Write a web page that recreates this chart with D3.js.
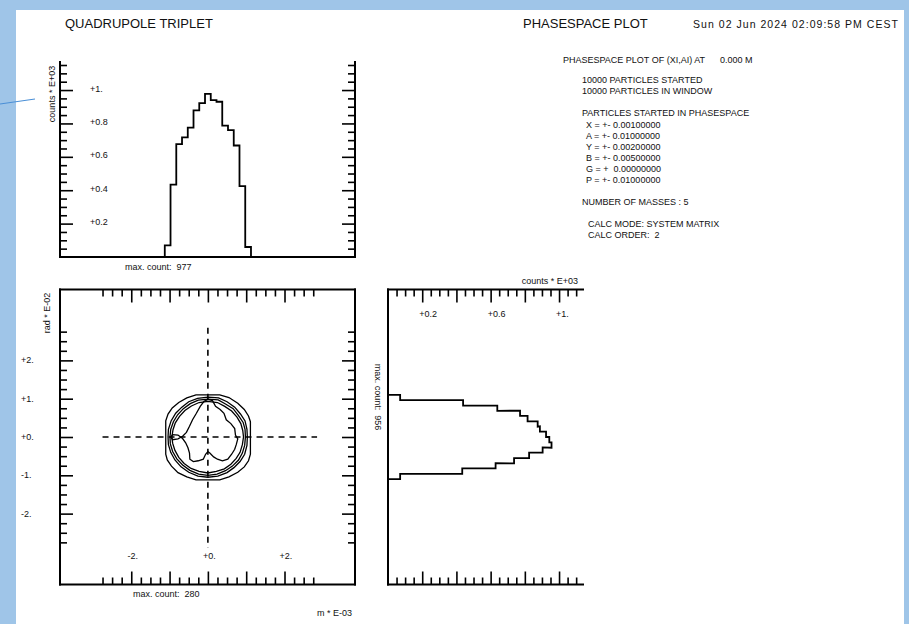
<!DOCTYPE html>
<html>
<head>
<meta charset="utf-8">
<script src="https://cdnjs.cloudflare.com/ajax/libs/d3/7.8.5/d3.min.js"></script>
<style>
html, body { margin: 0; padding: 0; background: #9fc5e8; }
svg { display: block; }
text { font-family: "Liberation Sans", Arial, Helvetica, sans-serif; fill: #111; white-space: pre; }
</style>
</head>
<body>
<div id="chart-area"></div>
<script>
// projection of X (m * E-03), 15 bins
var xBinCenters = [-1.05, -0.9, -0.75, -0.6, -0.45, -0.3, -0.15, 0, 0.15, 0.3, 0.45, 0.6, 0.75, 0.9, 1.05];
var xCounts = [70, 434, 676, 716, 775, 878, 922, 977, 940, 930, 787, 760, 668, 425, 60];
var xHistRange = [-3, 3];

// projection of A (rad * E-02), 16 bins, top to bottom
var aBinCenters = [1.03, 0.89, 0.75, 0.62, 0.48, 0.34, 0.21, 0.07, -0.07, -0.21, -0.34, -0.48, -0.62, -0.75, -0.89, -1.03];
var aCounts = [71, 439, 639, 772, 816, 875, 888, 924, 943, 956, 904, 825, 737, 629, 434, 71];

// density contours of the (X, A) phase space
var ringOuter = [[-0.31,1.10],[0.31,1.10],[0.55,1.03],[0.78,0.88],[0.95,0.72],[1.06,0.55],[1.11,0.40],[1.11,-0.45],[1.06,-0.62],[0.95,-0.78],[0.78,-0.92],[0.55,-1.04],[0.31,-1.12],[-0.31,-1.12],[-0.55,-1.04],[-0.78,-0.93],[-0.95,-0.76],[-1.06,-0.60],[-1.10,-0.45],[-1.10,0.42],[-1.04,0.60],[-0.93,0.76],[-0.76,0.90],[-0.55,1.02]];
var ringB = [[0,1.04],[0.28,1.02],[0.5,0.92],[0.7,0.78],[0.85,0.6],[0.97,0.42],[1.02,0.2],[1.03,0],[1.02,-0.22],[0.96,-0.45],[0.84,-0.64],[0.68,-0.8],[0.5,-0.93],[0.26,-1.02],[0,-1.05],[-0.26,-1.02],[-0.5,-0.92],[-0.7,-0.78],[-0.86,-0.6],[-0.97,-0.4],[-1.03,-0.2],[-1.04,0],[-1.03,0.2],[-0.96,0.42],[-0.84,0.62],[-0.68,0.78],[-0.5,0.92],[-0.27,1.01]];
var ringC = [[0,0.99],[0.27,0.97],[0.46,0.86],[0.66,0.74],[0.8,0.56],[0.92,0.38],[0.97,0.2],[0.98,0],[0.96,-0.22],[0.9,-0.42],[0.8,-0.6],[0.64,-0.76],[0.46,-0.88],[0.24,-0.97],[0,-1.0],[-0.24,-0.97],[-0.47,-0.87],[-0.66,-0.73],[-0.81,-0.57],[-0.92,-0.38],[-0.98,-0.18],[-0.99,0],[-0.97,0.2],[-0.9,0.4],[-0.79,0.58],[-0.64,0.74],[-0.46,0.87],[-0.25,0.96]];
var ringD = [[0,0.93],[0.25,0.9],[0.44,0.8],[0.62,0.68],[0.76,0.52],[0.86,0.35],[0.91,0.17],[0.93,0],[0.9,-0.2],[0.84,-0.4],[0.74,-0.56],[0.6,-0.71],[0.43,-0.83],[0.22,-0.9],[0,-0.94],[-0.23,-0.9],[-0.44,-0.82],[-0.62,-0.69],[-0.76,-0.53],[-0.86,-0.35],[-0.92,-0.16],[-0.94,0],[-0.91,0.19],[-0.85,0.37],[-0.74,0.54],[-0.6,0.69],[-0.43,0.81],[-0.23,0.9]];
var blob = [[0,0.98],[0.12,0.95],[0.2,0.8],[0.32,0.72],[0.42,0.62],[0.48,0.45],[0.6,0.35],[0.7,0.22],[0.72,0.05],[0.78,-0.05],[0.74,-0.2],[0.7,-0.32],[0.62,-0.45],[0.52,-0.58],[0.38,-0.62],[0.25,-0.58],[0.15,-0.52],[0.05,-0.42],[0,-0.38],[-0.06,-0.45],[-0.12,-0.58],[-0.25,-0.62],[-0.38,-0.64],[-0.47,-0.58],[-0.48,-0.42],[-0.52,-0.28],[-0.58,-0.15],[-0.66,-0.04],[-0.78,0.05],[-0.92,0.06],[-0.97,0.0],[-0.92,-0.07],[-0.78,-0.05],[-0.66,0.02],[-0.56,0.12],[-0.48,0.28],[-0.4,0.45],[-0.3,0.62],[-0.2,0.8],[-0.1,0.93],[0,0.98]];
var crossExtent = [-2.8, 2.85];

// tick labels
var countLabelValues = [0.2, 0.4, 0.6, 0.8, 1.0];
var countLabels = ["+0.2", "+0.4", "+0.6", "+0.8", "+1."];
var phaseYValues = [2, 1, 0, -1, -2];
var phaseYLabels = ["+2.", "+1.", "+0.", "-1.", "-2."];
var phaseXValues = [-2, 0, 2];
var phaseXLabels = ["-2.", "+0.", "+2."];
var sideLabelValues = [0.2, 0.6, 1.0];
var sideLabels = ["+0.2", "+0.6", "+1."];

var infoLines = ["PHASESPACE PLOT OF (XI,AI) AT", "0.000 M",
	"10000 PARTICLES STARTED", "10000 PARTICLES IN WINDOW",
	"PARTICLES STARTED IN PHASESPACE",
	"X = +- 0.00100000", "A = +- 0.01000000", "Y = +- 0.00200000",
	"B = +- 0.00500000", "G = +  0.00000000", "P = +- 0.01000000",
	"NUMBER OF MASSES : 5", "CALC MODE: SYSTEM MATRIX", "CALC ORDER:  2"];

var W = 909, H = 624;
var svg = d3.select("#chart-area").append("svg")
	.attr("width", W)
	.attr("height", H);

svg.append("rect").attr("x", 16).attr("y", 10).attr("width", 888).attr("height", H - 10).attr("fill", "#fff");
svg.append("line").attr("x1", 0).attr("y1", 104).attr("x2", 35).attr("y2", 99)
	.attr("stroke", "#4a8fd6").attr("stroke-width", 1.2);

// scales
var x = d3.scaleLinear().domain([-3.86, 3.84]).range([60, 355]);
var y = d3.scaleLinear().domain([-3.85, 3.85]).range([584.5, 289.5]);
var yCount = d3.scaleLinear().domain([0, 1.168]).range([257, 62]);
var xCount = d3.scaleLinear().domain([0, 1.14]).range([388, 583]);

function notOn(step){
	return function(v){ return Math.abs(v / step - Math.round(v / step)) > 1e-6; };
}
var countMinor = d3.range(0.05, 1.16, 0.05).filter(notOn(0.2));
var sideMinor = d3.range(0.05, 1.11, 0.05).filter(notOn(0.2));
var phaseMinor = d3.range(-2.75, 2.76, 0.25).filter(notOn(1));
var phaseMajor = [-2, -1, 0, 1, 2];

function ticks(gen, tx, ty, values, size){
	var g = svg.append("g").attr("transform", "translate(" + tx + "," + ty + ")")
		.call(gen.tickValues(values).tickSize(size).tickSizeOuter(0).tickFormat(""));
	g.select(".domain").remove();
	g.selectAll(".tick line").attr("stroke", "#000").attr("stroke-width", 1.6);
}
function seg(x1, y1, x2, y2){
	svg.append("line").attr("x1", x1).attr("y1", y1).attr("x2", x2).attr("y2", y2)
		.attr("stroke", "#000").attr("stroke-width", 2).attr("stroke-linecap", "square");
}
function label(t, px, py, anchor){
	return svg.append("text").attr("x", px).attr("y", py)
		.attr("text-anchor", anchor || "start").style("font-size", "9px").text(t);
}

var L = x.range()[0], R = x.range()[1];

// ---- top histogram (X projection)
seg(L, yCount.range()[1], L, yCount(0));
seg(R, yCount.range()[1], R, yCount(0));
seg(L, yCount(0), R, yCount(0));
ticks(d3.axisRight(yCount), L, 0, countMinor, 7);
ticks(d3.axisRight(yCount), L, 0, countLabelValues, 13);
ticks(d3.axisLeft(yCount), R, 0, countMinor, 7);
ticks(d3.axisLeft(yCount), R, 0, countLabelValues, 13);

var xw = xBinCenters[1] - xBinCenters[0];
var xPts = [[xHistRange[0], 0], [xBinCenters[0] - xw / 2, 0]];
xBinCenters.forEach(function(c, i){
	xPts.push([c - xw / 2, xCounts[i] / 1000]);
	xPts.push([c + xw / 2, xCounts[i] / 1000]);
});
xPts.push([xBinCenters[xBinCenters.length - 1] + xw / 2, 0], [xHistRange[1], 0]);
svg.append("path")
	.attr("d", d3.line().x(function(d){ return x(d[0]); }).y(function(d){ return yCount(d[1]); })(xPts))
	.attr("fill", "none").attr("stroke", "#000").attr("stroke-width", 1.8);

countLabelValues.forEach(function(v, i){ label(countLabels[i], 90, yCount(v) + 1.5); });
svg.append("text").attr("transform", "translate(55," + 94 + ") rotate(-90)")
	.attr("text-anchor", "middle").style("font-size", "9px").text("counts * E+03");
label("max. count:  " + d3.max(xCounts), 125, 270);

// ---- phase space plot
var T = y.range()[1], B = y.range()[0];
seg(L, T, R, T); seg(L, B, R, B); seg(L, T, L, B); seg(R, T, R, B);
ticks(d3.axisRight(y), L, 0, phaseMinor, 7);
ticks(d3.axisRight(y), L, 0, phaseMajor, 13);
ticks(d3.axisLeft(y), R, 0, phaseMinor, 7);
ticks(d3.axisLeft(y), R, 0, phaseMajor, 13);
ticks(d3.axisBottom(x), 0, T, phaseMinor, 7);
ticks(d3.axisBottom(x), 0, T, phaseMajor, 13);
ticks(d3.axisTop(x), 0, B, phaseMinor, 7);
ticks(d3.axisTop(x), 0, B, phaseMajor, 13);

svg.append("line").attr("x1", x(0)).attr("x2", x(0)).attr("y1", y(crossExtent[1])).attr("y2", y(crossExtent[0] - 0.1))
	.attr("stroke", "#000").attr("stroke-width", 1.6).attr("stroke-dasharray", "6,5");
svg.append("line").attr("y1", y(0)).attr("y2", y(0)).attr("x1", x(crossExtent[0] + 0.05)).attr("x2", x(crossExtent[1]))
	.attr("stroke", "#000").attr("stroke-width", 1.6).attr("stroke-dasharray", "6,5");

var contourLine = d3.line().x(function(d){ return x(d[0]); }).y(function(d){ return y(d[1]); }).curve(d3.curveLinearClosed);
[ringOuter, ringB, ringC, ringD].forEach(function(r){
	svg.append("path").attr("d", contourLine(r)).attr("fill", "none").attr("stroke", "#000").attr("stroke-width", 1.3);
});
svg.append("path").attr("d", d3.line().x(function(d){ return x(d[0]); }).y(function(d){ return y(d[1]); })(blob))
	.attr("fill", "none").attr("stroke", "#000").attr("stroke-width", 1.3);

phaseYValues.forEach(function(v, i){ label(phaseYLabels[i], 21, y(v) + 3); });
phaseXValues.forEach(function(v, i){ label(phaseXLabels[i], x(v) + 1.5, 559, "middle"); });
svg.append("text").attr("transform", "translate(50," + 313 + ") rotate(-90)")
	.attr("text-anchor", "middle").style("font-size", "9px").text("rad * E-02");
label("max. count:  280", 133, 597);
label("m * E-03", 317, 616);

// ---- side histogram (A projection)
var S0 = xCount.range()[0], S1 = xCount.range()[1];
seg(S0, T, S0, B); seg(S0, T, S1, T); seg(S0, B, S1, B);
ticks(d3.axisBottom(xCount), 0, T, sideMinor, 7);
ticks(d3.axisBottom(xCount), 0, T, countLabelValues, 13);
ticks(d3.axisTop(xCount), 0, B, sideMinor, 7);
ticks(d3.axisTop(xCount), 0, B, countLabelValues, 13);

var aw = aBinCenters[0] - aBinCenters[1];
var aPts = [[0, aBinCenters[0] + aw / 2]];
aBinCenters.forEach(function(c, i){
	aPts.push([aCounts[i] / 1000, c + aw / 2]);
	aPts.push([aCounts[i] / 1000, c - aw / 2]);
});
aPts.push([0, aBinCenters[aBinCenters.length - 1] - aw / 2]);
svg.append("path")
	.attr("d", d3.line().x(function(d){ return xCount(d[0]); }).y(function(d){ return y(d[1]); })(aPts))
	.attr("fill", "none").attr("stroke", "#000").attr("stroke-width", 1.8);

sideLabelValues.forEach(function(v, i){ label(sideLabels[i], xCount(v) - 3, 316.5); });
label("counts * E+03", 578, 284, "end");
svg.append("text").attr("transform", "translate(374.5," + 397 + ") rotate(90)")
	.attr("text-anchor", "middle").style("font-size", "9px").text("max. count:  " + d3.max(aCounts));

// ---- titles and info block
svg.append("text").attr("x", 65).attr("y", 28).style("font-size", "13px").text("QUADRUPOLE TRIPLET");
svg.append("text").attr("x", 523).attr("y", 28).style("font-size", "13px").text("PHASESPACE PLOT");
svg.append("text").attr("x", 693).attr("y", 28).style("font-size", "10.5px")
	.attr("textLength", 205).attr("lengthAdjust", "spacing").text("Sun 02 Jun 2024 02:09:58 PM CEST");

var infoLayout = [[563, 62.5], [720, 62.5], [582, 83], [582, 94], [582, 116],
	[586, 127.5], [586, 138.5], [586, 149.5], [586, 160.5], [586, 171.5], [586, 182.5],
	[582, 204.5], [588, 226.5], [588, 237.5]];
infoLines.forEach(function(t, i){ label(t, infoLayout[i][0], infoLayout[i][1]); });
</script>
</body>
</html>
